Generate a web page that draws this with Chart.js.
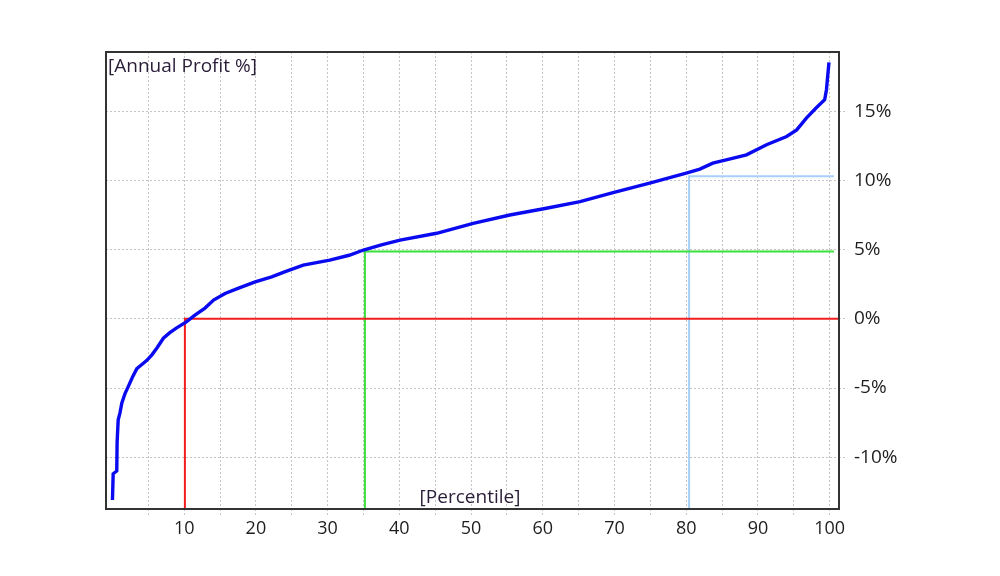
<!DOCTYPE html>
<html>
<head>
<meta charset="utf-8">
<script src="https://cdn.jsdelivr.net/npm/chart.js@4/dist/chart.umd.min.js"></script>
<style>
  html, body { margin: 0; padding: 0; background: #ffffff; }
  #wrap { width: 1000px; height: 576px; position: relative; }
</style>
</head>
<body>
<div id="wrap"><canvas id="c" width="1000" height="576"></canvas></div>
<script>
// ---- data ----
const percentiles = [0, 0.1, 0.6, 0.65, 0.8, 1.05, 1.3, 1.75, 2.2, 2.8, 3.4, 4.1, 4.8, 5.5, 6.2, 7.1, 8.0, 8.9, 10.3, 11.5, 12.9, 14.1, 15.7, 17.5, 19.9, 22.2, 24.0, 26.6, 30.3, 33.0, 35.0, 37.5, 40.1, 45.2, 50.3, 55.4, 60.5, 65.2, 69.8, 74.9, 80.0, 81.9, 83.7, 86.0, 88.4, 91.2, 94.0, 95.4, 96.75, 98.1, 99.3, 99.55, 99.7, 99.9];
const annualProfit = [-13.1, -11.2, -11.0, -8.9, -7.3, -6.8, -6.1, -5.4, -4.9, -4.2, -3.6, -3.3, -3.0, -2.6, -2.1, -1.4, -1.0, -0.67, -0.22, 0.27, 0.78, 1.36, 1.84, 2.2, 2.68, 3.04, 3.4, 3.89, 4.25, 4.6, 4.98, 5.35, 5.7, 6.19, 6.91, 7.51, 8.0, 8.48, 9.13, 9.81, 10.54, 10.83, 11.26, 11.55, 11.86, 12.59, 13.19, 13.67, 14.52, 15.25, 15.85, 16.57, 17.42, 18.55];

const redMarkX = [10.1, 10.1, 101.3];
const redMarkY = [-13.8, 0, 0];
const greenMarkX = [35.2, 35.2, 100.6];
const greenMarkY = [-13.8, 4.87, 4.87];
const blueMarkX = [80.4, 80.4, 100.6];
const blueMarkY = [-13.8, 10.32, 10.32];

const xTickValues = [5, 10, 15, 20, 25, 30, 35, 40, 45, 50, 55, 60, 65, 70, 75, 80, 85, 90, 95, 100];
const yTickValues = [-10, -5, 0, 5, 10, 15];
const yAxisTitle = '[Annual Profit %]';
const xAxisTitle = '[Percentile]';

function pts(xs, ys) { return xs.map((x, i) => ({ x: x, y: ys[i] })); }

const FONT = '"Open Sans", "DejaVu Sans", sans-serif';
const gridStyle = {
  color: '#c4c4c4',
  lineWidth: 1,
  tickColor: '#c4c4c4',
  tickLength: 8,
  tickWidth: 1,
  tickBorderDash: [2, 2]
};

const framePlugin = {
  id: 'frame',
  afterDatasetsDraw(chart) {
    const a = chart.chartArea, ctx = chart.ctx;
    ctx.save();
    ctx.strokeStyle = '#333333';
    ctx.lineWidth = 2;
    ctx.strokeRect(a.left, a.top, a.right - a.left, a.bottom - a.top);
    ctx.fillStyle = '#2a1d38';
    ctx.font = '19px ' + FONT;
    ctx.textBaseline = 'alphabetic';
    ctx.textAlign = 'left';
    ctx.fillText(yAxisTitle, a.left + 2, a.top + 20);
    ctx.textAlign = 'center';
    ctx.fillText(xAxisTitle, 470, a.bottom - 6);
    ctx.restore();
  }
};

new Chart(document.getElementById('c'), {
  type: 'line',
  data: {
    datasets: [
      { data: pts(percentiles, annualProfit), borderColor: '#0a0af0', borderWidth: 3.4, pointRadius: 0, tension: 0, order: 0 },
      { data: pts(redMarkX, redMarkY), borderColor: '#f21d1d', borderWidth: 2, pointRadius: 0, tension: 0, order: 1 },
      { data: pts(greenMarkX, greenMarkY), borderColor: '#3be03b', borderWidth: 2, pointRadius: 0, tension: 0, order: 1 },
      { data: pts(blueMarkX, blueMarkY), borderColor: '#a6d0fa', borderWidth: 2, pointRadius: 0, tension: 0, order: 1 }
    ]
  },
  options: {
    responsive: false,
    animation: false,
    layout: { padding: { left: 106, top: 52, right: 0, bottom: 0 } },
    plugins: { legend: { display: false }, tooltip: { enabled: false } },
    scales: {
      x: {
        type: 'linear',
        min: -0.9,
        max: 101.3,
        afterBuildTicks(s) { s.ticks = xTickValues.map(v => ({ value: v })); },
        afterFit(s) { s.height = 67; },
        border: { display: false, dash: [2, 2] },
        grid: Object.assign({}, gridStyle),
        ticks: {
          autoSkip: false,
          maxRotation: 0,
          padding: 1,
          color: '#1e1e1e',
          font: { family: FONT, size: 18 },
          callback: v => (v % 10 === 0 ? String(v) : '')
        }
      },
      y: {
        type: 'linear',
        position: 'right',
        min: -13.75,
        max: 19.3,
        afterBuildTicks(s) { s.ticks = yTickValues.map(v => ({ value: v })); },
        afterFit(s) { s.width = 161; },
        border: { display: false, dash: [2, 2] },
        grid: Object.assign({}, gridStyle, { tickLength: 7 }),
        ticks: {
          padding: 8,
          color: '#1e1e1e',
          font: { family: FONT, size: 19 },
          callback: v => v + '%'
        }
      }
    }
  },
  plugins: [framePlugin]
});
</script>
</body>
</html>
